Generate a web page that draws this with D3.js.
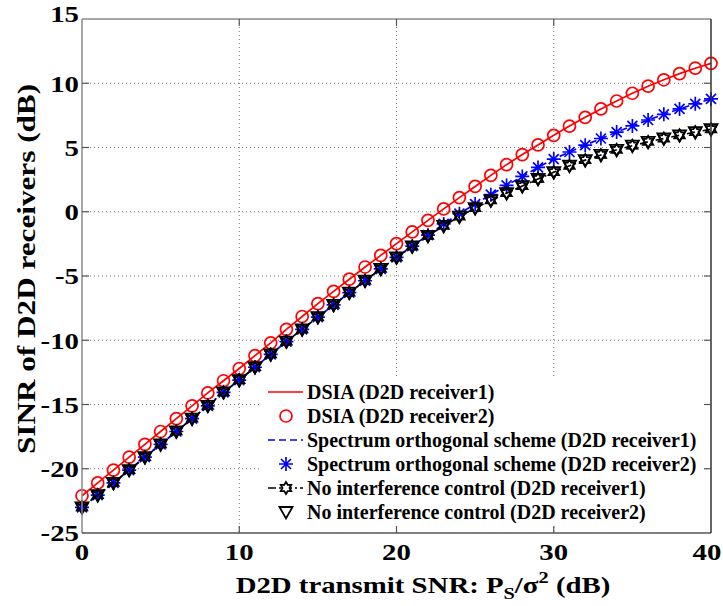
<!DOCTYPE html>
<html>
<head>
<meta charset="utf-8">
<script src="https://cdn.jsdelivr.net/npm/d3@7"></script>
<style>
body { margin: 0; background: #fff; }
text { font-family: "Liberation Serif", "Times New Roman", serif; font-weight: bold; fill: #000; }
</style>
</head>
<body>
<div id="chart"></div>
<script>
// transmit SNR (dB)
var snr = [0, 1, 2, 3, 4, 5, 6, 7, 8, 9, 10, 11, 12, 13, 14, 15, 16, 17, 18, 19, 20,
           21, 22, 23, 24, 25, 26, 27, 28, 29, 30, 31, 32, 33, 34, 35, 36, 37, 38, 39, 40];

// DSIA, both receivers
var dsia = [-22.1, -21.1, -20.1, -19.1, -18.1, -17.1, -16.1, -15.1, -14.1, -13.15, -12.2,
            -11.2, -10.2, -9.15, -8.15, -7.15, -6.2, -5.25, -4.3, -3.4, -2.48,
            -1.57, -0.67, 0.22, 1.1, 1.97, 2.83, 3.67, 4.45, 5.2, 5.95,
            6.67, 7.35, 8.0, 8.62, 9.22, 9.77, 10.27, 10.75, 11.17, 11.55];

// spectrum orthogonal scheme
var orth = [-23.0, -22.05, -21.1, -20.1, -19.1, -18.1, -17.1, -16.1, -15.1, -14.05, -13.1,
            -12.1, -11.1, -10.1, -9.15, -8.2, -7.25, -6.3, -5.37, -4.45, -3.55,
            -2.68, -1.82, -0.95, -0.15, 0.6, 1.33, 2.05, 2.75, 3.45, 4.1,
            4.65, 5.18, 5.7, 6.2, 6.68, 7.14, 7.58, 8.0, 8.4, 8.78];

// no interference control
var noctrl = [-23.0, -22.05, -21.1, -20.1, -19.1, -18.1, -17.1, -16.1, -15.1, -14.05, -13.1,
              -12.1, -11.1, -10.1, -9.15, -8.2, -7.25, -6.3, -5.37, -4.45, -3.55,
              -2.7, -1.88, -1.1, -0.38, 0.28, 0.88, 1.45, 2.0, 2.55, 3.08,
              3.58, 4.02, 4.42, 4.82, 5.14, 5.44, 5.7, 5.95, 6.2, 6.42];

var xTicks = [0, 10, 20, 30, 40];
var yTicks = [-25, -20, -15, -10, -5, 0, 5, 10, 15];

var legendLabels = [
    "DSIA (D2D receiver1)",
    "DSIA (D2D receiver2)",
    "Spectrum orthogonal scheme (D2D receiver1)",
    "Spectrum orthogonal scheme (D2D receiver2)",
    "No interference control (D2D receiver1)",
    "No interference control (D2D receiver2)"
];

var W = 723, H = 606;
var pL = 82, pR = 711, pT = 19, pB = 533;
var stretch = 1.2;   // axis text in the figure is wide

var svg = d3.select("#chart").append("svg")
    .attr("width", W).attr("height", H);

var x = d3.scaleLinear().domain([0, 40]).range([pL, pR]);
var y = d3.scaleLinear().domain([-25, 15]).range([pB, pT]);

// grid, dotted
var grid = svg.append("g");
grid.selectAll("line.gx").data(xTicks.slice(1, -1)).enter().append("line")
    .attr("x1", function(d) { return x(d); }).attr("x2", function(d) { return x(d); })
    .attr("y1", pT).attr("y2", pB)
    .attr("stroke", "#777").attr("stroke-width", 1).attr("stroke-dasharray", "1,3");
grid.selectAll("line.gy").data(yTicks.slice(1, -1)).enter().append("line")
    .attr("y1", function(d) { return y(d); }).attr("y2", function(d) { return y(d); })
    .attr("x1", pL).attr("x2", pR)
    .attr("stroke", "#777").attr("stroke-width", 1).attr("stroke-dasharray", "1,3");

// marker shapes
var hexPath = (function() {
    var pts = [];
    for (var i = 0; i < 12; i++) {
        var r = i % 2 === 0 ? 6 : 3.5;
        var a = Math.PI / 2 + i * Math.PI / 6;
        pts.push([r * Math.cos(a), -r * Math.sin(a)]);
    }
    return "M" + pts.join("L") + "Z";
})();
var triPath = "M-6.5,-5L6.5,-5L0,6.5Z";
var starPath = "M0,-7V7M-7,0H7M-5,-5L5,5M-5,5L5,-5";

function drawMarkers(g, data, kind) {
    var sel = g.selectAll(null).data(data).enter();
    if (kind === "circle") {
        sel.append("circle").attr("cx", function(d) { return x(d[0]); })
            .attr("cy", function(d) { return y(d[1]); })
            .attr("r", 6).attr("fill", "none").attr("stroke", "#ff0000").attr("stroke-width", 1.7);
    } else {
        var p = kind === "star" ? starPath : kind === "hex" ? hexPath : triPath;
        var col = kind === "star" ? "#0000ff" : "#000";
        sel.append("path").attr("d", p)
            .attr("transform", function(d) { return "translate(" + x(d[0]) + "," + y(d[1]) + ")"; })
            .attr("fill", "none").attr("stroke", col).attr("stroke-width", kind === "star" ? 1.7 : 1.8);
    }
}

var line = d3.line().x(function(d) { return x(d[0]); }).y(function(d) { return y(d[1]); });
function pairs(vals) { return snr.map(function(s, i) { return [s, vals[i]]; }); }

var plot = svg.append("g");
plot.append("path").datum(pairs(dsia)).attr("d", line)
    .attr("fill", "none").attr("stroke", "#ff0000").attr("stroke-width", 1.7);
drawMarkers(plot.append("g"), pairs(dsia), "circle");
plot.append("path").datum(pairs(orth)).attr("d", line)
    .attr("fill", "none").attr("stroke", "#0000ff").attr("stroke-width", 1.7).attr("stroke-dasharray", "7,4");
drawMarkers(plot.append("g"), pairs(orth), "star");
plot.append("path").datum(pairs(noctrl)).attr("d", line)
    .attr("fill", "none").attr("stroke", "#000").attr("stroke-width", 1.7).attr("stroke-dasharray", "8,3,2,3");
drawMarkers(plot.append("g"), pairs(noctrl), "hex");
drawMarkers(plot.append("g"), pairs(noctrl), "tri");

// legend
var lg = svg.append("g");
lg.append("rect").attr("x", 262).attr("y", 376).attr("width", 442).attr("height", 149).attr("fill", "#fff");
var legY = [392, 416, 440, 464, 488, 512];
var lx0 = 268, lx1 = 303, lmx = 286;
lg.append("line").attr("x1", lx0).attr("x2", lx1).attr("y1", legY[0]).attr("y2", legY[0])
    .attr("stroke", "#ff0000").attr("stroke-width", 1.7);
lg.append("circle").attr("cx", lmx).attr("cy", legY[1]).attr("r", 6)
    .attr("fill", "none").attr("stroke", "#ff0000").attr("stroke-width", 1.7);
lg.append("line").attr("x1", lx0).attr("x2", lx1).attr("y1", legY[2]).attr("y2", legY[2])
    .attr("stroke", "#0000ff").attr("stroke-width", 1.7).attr("stroke-dasharray", "7,4");
lg.append("path").attr("d", starPath).attr("transform", "translate(" + lmx + "," + legY[3] + ")")
    .attr("fill", "none").attr("stroke", "#0000ff").attr("stroke-width", 1.7);
lg.append("line").attr("x1", lx0).attr("x2", lx1).attr("y1", legY[4]).attr("y2", legY[4])
    .attr("stroke", "#000").attr("stroke-width", 1.7).attr("stroke-dasharray", "8,3,2,3");
lg.append("path").attr("d", hexPath).attr("transform", "translate(" + lmx + "," + legY[4] + ")")
    .attr("fill", "#fff").attr("stroke", "#000").attr("stroke-width", 1.8);
lg.append("path").attr("d", triPath).attr("transform", "translate(" + lmx + "," + legY[5] + ")")
    .attr("fill", "none").attr("stroke", "#000").attr("stroke-width", 1.8);
lg.selectAll("text").data(legendLabels).enter().append("text")
    .attr("x", 307).attr("y", function(d, i) { return legY[i]; })
    .attr("dy", "0.35em").style("font-size", "20px")
    .text(function(d) { return d; });

// box and ticks
svg.append("line").attr("x1", pL).attr("x2", pL).attr("y1", pT).attr("y2", pB)
    .attr("stroke", "#8a8a8a").attr("stroke-width", 1.5);
svg.append("line").attr("x1", pL).attr("x2", pR).attr("y1", pT).attr("y2", pT)
    .attr("stroke", "#8a8a8a").attr("stroke-width", 1.5);
svg.append("line").attr("x1", pL).attr("x2", pR).attr("y1", pB).attr("y2", pB)
    .attr("stroke", "#555").attr("stroke-width", 1.5);
svg.append("line").attr("x1", pR).attr("x2", pR).attr("y1", pT).attr("y2", pB)
    .attr("stroke", "#333").attr("stroke-width", 1.5);

var ticks = svg.append("g").attr("stroke", "#555").attr("stroke-width", 1.2);
xTicks.slice(1, -1).forEach(function(t) {
    ticks.append("line").attr("x1", x(t)).attr("x2", x(t)).attr("y1", pB).attr("y2", pB - 7);
    ticks.append("line").attr("x1", x(t)).attr("x2", x(t)).attr("y1", pT).attr("y2", pT + 7);
});
yTicks.slice(1, -1).forEach(function(t) {
    ticks.append("line").attr("y1", y(t)).attr("y2", y(t)).attr("x1", pL).attr("x2", pL + 7);
    ticks.append("line").attr("y1", y(t)).attr("y2", y(t)).attr("x1", pR).attr("x2", pR - 7);
});

// tick labels
svg.append("g").selectAll("text").data(xTicks).enter().append("text")
    .attr("transform", function(d) {
        var xx = d === 40 ? x(d) - 4 : x(d);
        return "translate(" + xx + ",560) scale(" + stretch + ",1)";
    })
    .attr("text-anchor", "middle").style("font-size", "24px")
    .text(function(d) { return d; });
svg.append("g").selectAll("text").data(yTicks).enter().append("text")
    .attr("transform", function(d) {
        var yy = d === 15 ? y(d) - 5 : y(d);
        return "translate(" + (pL - 3) + "," + yy + ") scale(" + stretch + ",1)";
    })
    .attr("dy", "0.35em").attr("text-anchor", "end").style("font-size", "24px")
    .text(function(d) { return d; });

// axis titles
var xt = svg.append("text").attr("transform", "translate(423,593) scale(" + stretch + ",1)")
    .attr("text-anchor", "middle").style("font-size", "24px");
xt.append("tspan").text("D2D transmit SNR: P");
xt.append("tspan").attr("dy", 6).style("font-size", "17px").text("S");
xt.append("tspan").attr("dy", -6).text("/σ");
xt.append("tspan").attr("dy", -10).style("font-size", "17px").text("2");
xt.append("tspan").attr("dy", 10).text(" (dB)");

svg.append("text").attr("transform", "translate(35,269) rotate(-90) scale(" + stretch + ",1)")
    .attr("text-anchor", "middle").style("font-size", "26px")
    .text("SINR of D2D receivers (dB)");
</script>
</body>
</html>
